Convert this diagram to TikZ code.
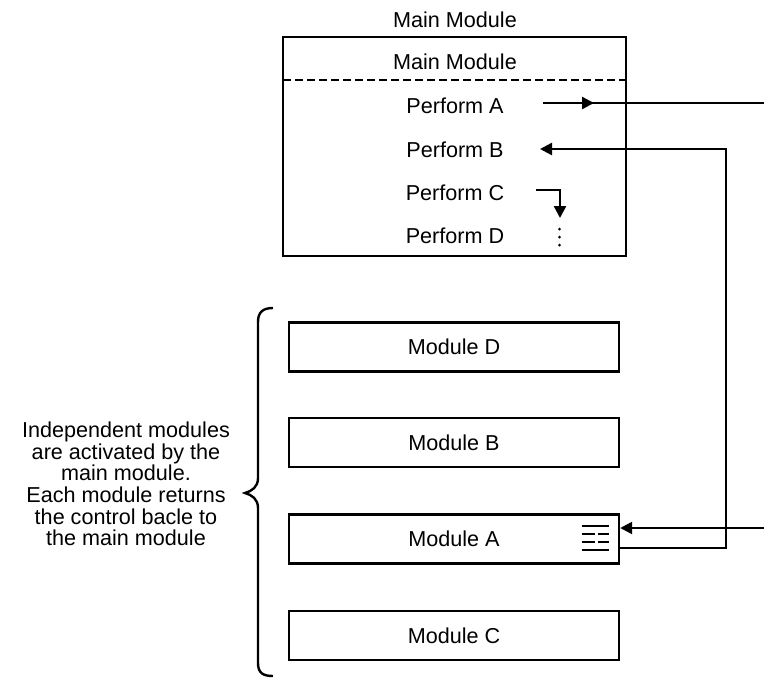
\documentclass[tikz,border=0pt]{standalone}
\usepackage{fontspec}
\setmainfont{Liberation Sans}
\usetikzlibrary{arrows.meta}
\begin{document}
\begin{tikzpicture}[x=1pt,y=-1pt,
  every node/.style={font=\fontsize{21.6}{21.7}\selectfont, inner sep=0pt},
  modbox/.style={draw, line width=2.4pt, minimum width=330pt, minimum height=49pt},
  ln/.style={line width=2.4pt},
  tipped/.style={-{Triangle[length=12pt,width=12pt]}}]
\useasboundingbox (0,0) rectangle (764,678);
% main module
\node (title) at (455,20) {Main Module};
\node[draw, line width=2.4pt, minimum width=343pt, minimum height=219pt] (main) at (454.5,146.5) {};
\node (mm) at (455,62) {Main Module};
\coordinate (d1) at (283,80);
\coordinate (d2) at (626,80);
\draw[ln, dash pattern=on 8pt off 4pt] (d1) -- (d2);
\node (pa) at (455,106) {Perform A};
\node (pb) at (455,149.5) {Perform B};
\node (pc) at (455,193) {Perform C};
\node (pd) at (455,236) {Perform D};
% modules
\node[modbox] (modD) at (454,347) {Module D};
\node[modbox] (modB) at (454,442.5) {Module B};
\node[modbox] (modA) at (454,539) {Module A};
\node[modbox] (modC) at (454,635.5) {Module C};
% perform A arrow
\coordinate (a0) at (543,103);
\coordinate (amid) at (594,103);
\coordinate (aout) at (764,103);
\draw[ln] (a0) -- (aout);
\draw[ln, tipped] (a0) -- (amid);
% perform B return
\coordinate (bL) at (540,149);
\coordinate (bR) at (726,149);
\coordinate (bD) at (726,548);
\draw[ln, tipped] (modA.east |- bD) -- (bD) -- (bR) -- (bL);
% into module A
\coordinate (ain) at (764,528);
\draw[ln, tipped] (ain) -- (modA.east |- ain);
% perform C
\coordinate (c0) at (536,190);
\coordinate (c1) at (560,190);
\coordinate (c2) at (560,218);
\draw[ln, tipped] (c0) -- (c1) -- (c2);
\fill (559.5,229) circle (1.5pt);
\fill (559.5,237) circle (1.5pt);
\fill (559.5,245) circle (1.5pt);
% icon in module A
\draw[ln] (582,526) -- (609,526);
\draw[ln] (582,534) -- (595,534);
\draw[ln] (598,534) -- (609,534);
\draw[ln] (582,542) -- (595,542);
\draw[ln] (598,542) -- (609,542);
\draw[ln] (582,550) -- (609,550);
% brace
\draw[ln] (273,308) .. controls (263,308) and (258,312) .. (258,322) -- (258,478)
  .. controls (258,487) and (252,491) .. (245,493)
  .. controls (252,495) and (258,499) .. (258,508) -- (258,663)
  .. controls (258,673) and (263,676) .. (273,676);
% note
\node[align=center] (note) at (126,484) {Independent modules\\are activated by the\\main module.\\Each module returns\\the control bacle to\\the main module};
\end{tikzpicture}
\end{document}
